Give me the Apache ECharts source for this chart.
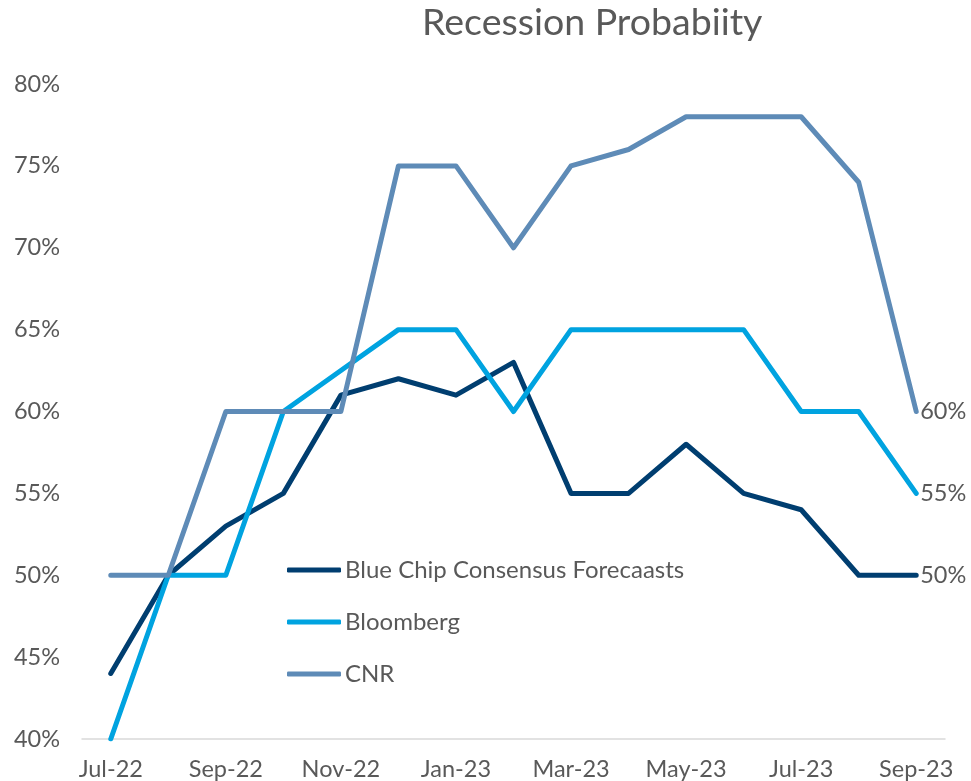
<!DOCTYPE html>
<html>
<head>
<meta charset="utf-8">
<script src="https://cdn.jsdelivr.net/npm/echarts@6/dist/echarts.min.js"></script>
<style>
	html, body { margin: 0; padding: 0; background: #fff; }
	#chart { width: 971px; height: 781px; }
</style>
</head>
<body>
<div id="chart"></div>
<script>
const months = ['Jul-22', 'Aug-22', 'Sep-22', 'Oct-22', 'Nov-22', 'Dec-22', 'Jan-23', 'Feb-23',
	'Mar-23', 'Apr-23', 'May-23', 'Jun-23', 'Jul-23', 'Aug-23', 'Sep-23'];
const blueChip = [44, 50, 53, 55, 61, 62, 61, 63, 55, 55, 58, 55, 54, 50, 50];
const bloomberg = [40, 50, 50, 60, 62.5, 65, 65, 60, 65, 65, 65, 65, 60, 60, 55];
const cnr = [50, 50, 60, 60, 60, 75, 75, 70, 75, 76, 78, 78, 78, 74, 60];

const textColor = '#595959';
const font = 'Lato, "Open Sans", sans-serif';

function makeSeries(name, data, color) {
	return {
		name: name,
		type: 'line',
		data: data,
		symbol: 'none',
		lineStyle: { color: color, width: 5, cap: 'round', join: 'round' },
		itemStyle: { color: color },
		endLabel: {
			show: true,
			formatter: (p) => p.value + '%',
			color: textColor,
			fontFamily: font,
			fontSize: 23.5,
			distance: 4
		}
	};
}

const chart = echarts.init(document.getElementById('chart'));
chart.setOption({
	animation: false,
	title: {
		text: 'Recession Probabiity',
		left: 422,
		top: 4,
		padding: 0,
		textStyle: { color: textColor, fontFamily: font, fontSize: 37.5, fontWeight: 'normal' }
	},
	legend: {
		orient: 'vertical',
		left: 287,
		top: 558,
		padding: 0,
		itemGap: 28,
		itemWidth: 54,
		itemHeight: 5,
		icon: 'roundRect',
		textStyle: { color: textColor, fontFamily: font, fontSize: 24, padding: [0, 0, 0, -1] }
	},
	grid: { left: 82, right: 26, top: 84, bottom: 42, containLabel: false },
	xAxis: {
		type: 'category',
		data: months,
		boundaryGap: true,
		axisLine: { lineStyle: { color: '#d9d9d9', width: 1.5 } },
		axisTick: { interval: 1, length: 6, lineStyle: { color: '#d9d9d9', width: 1.5 } },
		axisLabel: { interval: 1, color: textColor, fontFamily: font, fontSize: 23.5, margin: 18 }
	},
	yAxis: {
		type: 'value',
		min: 40,
		max: 80,
		interval: 5,
		axisLine: { show: false },
		axisTick: { show: false },
		splitLine: { show: false },
		axisLabel: { formatter: '{value}%', color: textColor, fontFamily: font, fontSize: 23.5, margin: 22 }
	},
	series: [
		makeSeries('Blue Chip Consensus Forecaasts', blueChip, '#003e70'),
		makeSeries('Bloomberg', bloomberg, '#00a3e0'),
		makeSeries('CNR', cnr, '#5e8bb7')
	]
});
</script>
</body>
</html>
